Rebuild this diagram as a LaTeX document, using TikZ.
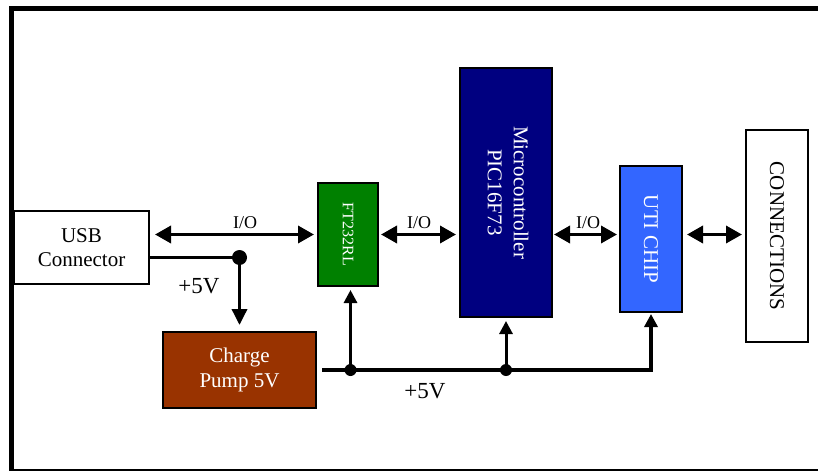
\documentclass[tikz,border=0pt]{standalone}
\usepackage{fontspec}
\setmainfont{Liberation Serif}
\usetikzlibrary{arrows.meta}
\definecolor{ftgreen}{HTML}{008000}
\definecolor{mcunavy}{HTML}{000080}
\definecolor{utiblue}{HTML}{3366FF}
\definecolor{pumpbrown}{HTML}{993300}
\begin{document}
\begin{tikzpicture}[x=1pt,y=-1pt,
  box/.style={draw=black, line width=2pt, rectangle, inner sep=0pt},
  io/.style={line width=3.5pt, {Triangle[length=16pt,width=17pt]}-{Triangle[length=16pt,width=17pt]}},
  pw/.style={line width=3.5pt},
  uparrow/.style={line width=3pt, -{Triangle[length=13pt,width=13pt]}},
  lbl/.style={inner sep=0pt, font=\fontsize{18}{20}\selectfont},
  vlbl/.style={inner sep=0pt, font=\fontsize{23}{26}\selectfont}
]
\useasboundingbox (0,0) rectangle (818,471);
% frame
\draw[line width=5pt] (11.5,8.5) -- (818,8.5);
\draw[line width=5pt] (11.5,6) -- (11.5,471);
\draw[line width=2pt] (11.5,470) -- (818,470);

% blocks
\node[box, fill=white, minimum width=135pt, minimum height=73pt, align=center,
      font=\fontsize{21}{24}\selectfont] (usb) at (81.5,247.5) {USB\\Connector};
\node[box, fill=ftgreen, text=white, minimum width=60pt, minimum height=103pt,
      font=\fontsize{16}{19}\selectfont] (ft) at (348,234.5) {\rotatebox{-90}{FT232RL}};
\node[box, fill=mcunavy, text=white, minimum width=92pt, minimum height=249pt,
      font=\fontsize{21}{26}\selectfont] (mcu) at (506,192.5)
      {\rotatebox{-90}{\begin{tabular}{@{}c@{}}Microcontroller\\PIC16F73\end{tabular}}};
\node[box, fill=utiblue, text=white, minimum width=62pt, minimum height=146pt,
      font=\fontsize{21}{24}\selectfont] (uti) at (651,239) {\rotatebox{-90}{UTI CHIP}};
\node[box, fill=white, minimum width=62pt, minimum height=212pt,
      font=\fontsize{21}{24}\selectfont] (conn) at (777,236) {\rotatebox{-90}{CONNECTIONS}};
\node[box, fill=pumpbrown, text=white, minimum width=153pt, minimum height=76pt, align=center,
      font=\fontsize{21}{25}\selectfont] (pump) at (239.5,370) {Charge\\Pump 5V};

% I/O arrows
\draw[io, shorten <=5pt, shorten >=3pt] (usb.east |- ft.west) -- (ft.west);
\draw[io, shorten <=2pt, shorten >=3pt] (ft.east) -- (mcu.west |- ft.east);
\draw[io, shorten <=1pt, shorten >=2pt] (mcu.east |- ft.east) -- (uti.west |- ft.east);
\draw[io, shorten <=4pt, shorten >=3pt] (uti.east |- ft.east) -- (conn.west |- ft.east);
\node[lbl, anchor=base] (io1) at (245,228) {I/O};
\node[lbl, anchor=base] (io2) at (419,228) {I/O};
\node[lbl, anchor=base] (io3) at (588,228) {I/O};

% power from USB
\coordinate (j1) at (239.5,257.5);
\draw[pw] (usb.east |- j1) -- (j1);
\draw[pw, -{Triangle[length=16pt,width=15pt]}, shorten >=6pt] (j1) -- (pump.north);
\fill (j1) circle[radius=7.5pt];
\node[vlbl, anchor=base] (v5a) at (199,293) {+5V};

% power bus
\coordinate (b1) at (350.5,370);
\coordinate (b2) at (506,370);
\draw[pw, -{Triangle[length=13pt,width=13pt]}, shorten <=5pt, shorten >=1pt]
  (pump.east) -- (uti.south |- pump.east) -- (uti.south);
\draw[uparrow, shorten >=3pt] (b1) -- (b1 |- ft.south);
\draw[uparrow, shorten >=3pt] (b2) -- (b2 |- mcu.south);
\fill (b1) circle[radius=6pt];
\fill (b2) circle[radius=6pt];
\node[vlbl, anchor=base] (v5b) at (425,398) {+5V};
\end{tikzpicture}
\end{document}
